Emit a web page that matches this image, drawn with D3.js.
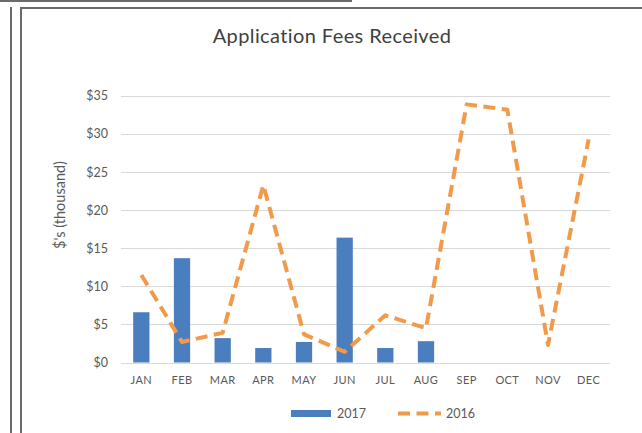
<!DOCTYPE html>
<html>
<head>
<meta charset="utf-8">
<script src="https://cdn.jsdelivr.net/npm/d3@7"></script>
<style>
  body { margin: 0; background: #fff; }
  svg { display: block; font-family: Lato, "Open Sans", sans-serif; }
</style>
</head>
<body>
<svg width="642" height="433"></svg>
<script>
const MONTHS = ['JAN','FEB','MAR','APR','MAY','JUN','JUL','AUG','SEP','OCT','NOV','DEC'];
// 2017 bars (only Jan-Aug reported)
const FEES_2017 = [6.6, 13.7, 3.2, 1.9, 2.7, 16.4, 1.9, 2.8];
// 2016 dashed line
const FEES_2016 = [11.5, 2.7, 3.9, 23.3, 3.7, 1.4, 6.2, 4.5, 33.9, 33.2, 2.3, 29.3];
const Y_TICKS = [0, 5, 10, 15, 20, 25, 30, 35];

const blue = '#4a7ebf';
const orange = '#f09a4a';

const svg = d3.select('svg');

// frame lines from the spreadsheet cells around the chart
const frame = svg.append('g').attr('stroke', '#6a6a6a').attr('stroke-width', 2).attr('fill', 'none');
frame.append('line').attr('x1', 0).attr('x2', 352).attr('y1', 1).attr('y2', 1);
frame.append('line').attr('x1', 11).attr('x2', 11).attr('y1', 7).attr('y2', 433);
frame.append('path').attr('d', 'M21,433V8H642');

const x = d3.scaleBand()
  .domain(MONTHS)
  .range([121, 609])
  .paddingInner(0.6)
  .paddingOuter(0.3);
const y = d3.scaleLinear().domain([0, 35]).range([362.5, 96]);

// gridlines
svg.append('g')
  .selectAll('line')
  .data(Y_TICKS)
  .enter()
  .append('line')
  .attr('x1', 121).attr('x2', 610)
  .attr('y1', d => Math.round(y(d)) + 0.5)
  .attr('y2', d => Math.round(y(d)) + 0.5)
  .attr('stroke', '#d9d9d9')
  .attr('stroke-width', 1);

// y tick labels
svg.append('g')
  .selectAll('text')
  .data(Y_TICKS)
  .enter()
  .append('text')
  .attr('x', 108)
  .attr('y', d => y(d))
  .attr('dy', '0.35em')
  .attr('text-anchor', 'end')
  .attr('font-size', 12.5)
  .attr('fill', '#595959')
  .text(d => '$' + d);

// x labels
svg.append('g')
  .selectAll('text')
  .data(MONTHS)
  .enter()
  .append('text')
  .attr('x', d => x(d) + x.bandwidth() / 2)
  .attr('y', 384)
  .attr('text-anchor', 'middle')
  .attr('font-size', 11)
  .attr('letter-spacing', 0.4)
  .attr('fill', '#595959')
  .text(d => d);

// bars 2017
svg.append('g')
  .selectAll('.bar')
  .data(FEES_2017)
  .enter()
  .append('rect')
  .classed('bar', true)
  .attr('x', (d, i) => x(MONTHS[i]))
  .attr('width', x.bandwidth())
  .attr('y', d => y(d))
  .attr('height', d => y(0) - y(d))
  .attr('fill', blue);

// line 2016
const line = d3.line()
  .x((d, i) => x(MONTHS[i]) + x.bandwidth() / 2)
  .y(d => y(d));

svg.append('path')
  .datum(FEES_2016)
  .attr('d', line)
  .attr('fill', 'none')
  .attr('stroke', orange)
  .attr('stroke-width', 4)
  .attr('stroke-dasharray', '12,6.5')
  .attr('stroke-linejoin', 'round');

// title
svg.append('text')
  .attr('x', 332)
  .attr('y', 43)
  .attr('text-anchor', 'middle')
  .attr('font-size', 20)
  .attr('letter-spacing', 0.4)
  .attr('fill', '#404040')
  .text('Application Fees Received');

// y axis title
svg.append('text')
  .attr('transform', 'translate(65,205) rotate(-90)')
  .attr('text-anchor', 'middle')
  .attr('font-size', 14.5)
  .attr('fill', '#595959')
  .text("$'s (thousand)");

// legend
const legend = svg.append('g').attr('font-size', 12.5).attr('fill', '#595959');
legend.append('rect')
  .attr('x', 291).attr('y', 410).attr('width', 40).attr('height', 7)
  .attr('fill', blue);
legend.append('text').attr('x', 337).attr('y', 418).text('2017');
legend.append('line')
  .attr('x1', 398).attr('x2', 441).attr('y1', 413.5).attr('y2', 413.5)
  .attr('stroke', orange).attr('stroke-width', 4)
  .attr('stroke-dasharray', '12,6.5');
legend.append('text').attr('x', 446).attr('y', 418).text('2016');
</script>
</body>
</html>
